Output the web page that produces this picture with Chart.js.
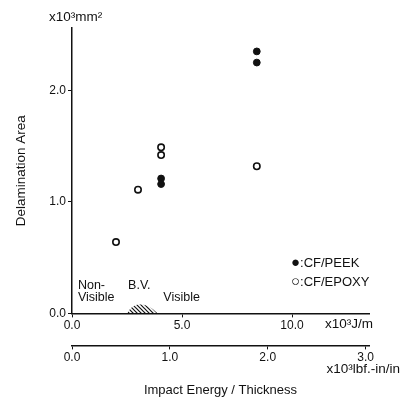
<!DOCTYPE html>
<html>
<head>
<meta charset="utf-8">
<script src="https://cdn.jsdelivr.net/npm/chart.js@4.4.1/dist/chart.umd.min.js"></script>
<style>
    html, body { margin: 0; padding: 0; background: #fff; }
    #wrap { width: 415px; height: 402px; }
</style>
</head>
<body>
<div id="wrap"><canvas id="chart"></canvas></div>
<script>
// impact energy / thickness (x10^3 J/m) vs delamination area (x10^3 mm^2)
const peekEnergy = [4.05, 4.05, 8.4, 8.4];
const peekArea = [1.21, 1.16, 2.35, 2.25];
const epoxyEnergy = [2.0, 3.0, 4.05, 4.05, 8.4];
const epoxyArea = [0.64, 1.11, 1.49, 1.42, 1.32];

// barely visible band (hatched)
const bvEnergy = [2.5, 2.75, 3.1, 3.5, 3.9];
const bvHeight = [0, 0.06, 0.08, 0.06, 0];

const jmTicks = [0, 5, 10];
const lbfTicks = [0, 1, 2, 3];
const areaTicks = [0, 1, 2];

const legendMarks = ['\u25CF', '\u25CB'];
const legendLabels = [':CF/PEEK', ':CF/EPOXY'];

const LBF_TO_JM = 4.448; // 1 lbf.in/in = 4.448 J/m
const X_MAX = 13.5;
const Y_MAX = 2.56;

const FONT = "'Liberation Sans', Arial, sans-serif";
const INK = '#111';

// text placed in data units
const notes = [
    { text: 'Non-', x: 0.27, y: 0.25 },
    { text: 'Visible', x: 0.27, y: 0.14 },
    { text: 'B.V.', x: 2.55, y: 0.25 },
    { text: 'Visible', x: 4.15, y: 0.14 }
];

const toPoints = (xs, ys) => xs.map((x, i) => ({ x: x, y: ys[i] }));

// diagonal hatch for the B.V. band
function hatchPattern() {
    const c = document.createElement('canvas');
    c.width = 4; c.height = 4;
    const g = c.getContext('2d');
    g.strokeStyle = '#111';
    g.lineWidth = 1.2;
    g.beginPath();
    g.moveTo(0, 0); g.lineTo(4, 4);
    g.moveTo(-1, 3); g.lineTo(1, 5);
    g.moveTo(3, -1); g.lineTo(5, 1);
    g.stroke();
    return g.createPattern(c, 'repeat');
}

const extraText = {
    id: 'extraText',
    afterDraw: (chart) => {
        const ctx = chart.ctx;
        const xs = chart.scales.x, x2 = chart.scales.x2, ys = chart.scales.y;
        ctx.save();
        ctx.fillStyle = INK;
        ctx.textBaseline = 'middle';

        ctx.font = '13.5px ' + FONT;
        ctx.textAlign = 'left';
        ctx.fillText('x10\u00B3mm\u00B2', chart.chartArea.left - 23, chart.chartArea.top - 11);

        ctx.textAlign = 'right';
        ctx.fillText('x10\u00B3J/m', xs.right + 4, xs.top + 11);
        ctx.fillText('x10\u00B3lbf.-in/in', x2.right + 31, x2.top + 24);

        ctx.textAlign = 'left';
        ctx.font = '12.5px ' + FONT;
        notes.forEach(n => {
            ctx.fillText(n.text, xs.getPixelForValue(n.x), ys.getPixelForValue(n.y));
        });

        // legend block, lower right of the plot
        const lx = xs.getPixelForValue(10.0);
        legendLabels.forEach((lab, i) => {
            const ly = ys.getPixelForValue(0.45) + i * 19;
            ctx.font = '15px ' + FONT;
            ctx.fillText(legendMarks[i], lx - 1, ly);
            const w = ctx.measureText(legendMarks[i]).width;
            ctx.font = '13px ' + FONT;
            ctx.fillText(lab, lx - 1 + w, ly);
        });
        ctx.restore();
    }
};

const tickFmt = (v) => Number(v).toFixed(1);

const axisBase = {
    type: 'linear',
    grid: { drawOnChartArea: false, drawTicks: true, tickLength: 4, color: INK },
    border: { display: true, color: INK, width: 1.5 },
    ticks: { color: INK, font: { family: FONT, size: 12 }, callback: tickFmt, maxRotation: 0 }
};

new Chart(document.getElementById('chart'), {
    type: 'scatter',
    data: {
        datasets: [
            {
                label: 'CF/PEEK',
                data: toPoints(peekEnergy, peekArea),
                pointStyle: 'circle',
                pointRadius: 3.4,
                backgroundColor: INK,
                borderColor: INK,
                borderWidth: 1
            },
            {
                label: 'CF/EPOXY',
                data: toPoints(epoxyEnergy, epoxyArea),
                pointStyle: 'circle',
                pointRadius: 3.2,
                backgroundColor: '#fff',
                borderColor: INK,
                borderWidth: 1.6
            },
            {
                label: 'B.V.',
                type: 'line',
                data: toPoints(bvEnergy, bvHeight),
                showLine: true,
                tension: 0.4,
                pointRadius: 0,
                borderWidth: 0,
                borderColor: 'rgba(0,0,0,0)',
                fill: 'origin',
                backgroundColor: hatchPattern()
            }
        ]
    },
    options: {
        responsive: true,
        maintainAspectRatio: false,
        animation: false,
        layout: { padding: { top: 28, right: 46, left: 0, bottom: 0 } },
        plugins: {
            legend: { display: false },
            tooltip: { enabled: false },
            title: {
                display: true,
                position: 'bottom',
                fullSize: false,
                text: 'Impact Energy / Thickness',
                color: INK,
                font: { family: FONT, size: 13, weight: 'normal' },
                padding: { top: 5, bottom: 4 }
            }
        },
        scales: {
            x: Object.assign({}, axisBase, {
                position: 'bottom',
                weight: 1,
                min: 0,
                max: X_MAX,
                ticks: Object.assign({}, axisBase.ticks, { padding: 1 }),
                afterBuildTicks: (s) => { s.ticks = jmTicks.map(v => ({ value: v })); },
                afterFit: (s) => { s.height = 32; }
            }),
            x2: Object.assign({}, axisBase, {
                position: 'bottom',
                weight: 2,
                min: 0,
                max: X_MAX / LBF_TO_JM,
                ticks: Object.assign({}, axisBase.ticks, { padding: 1 }),
                afterBuildTicks: (s) => { s.ticks = lbfTicks.map(v => ({ value: v })); },
                afterFit: (s) => { s.height = 32; }
            }),
            y: Object.assign({}, axisBase, {
                min: 0,
                max: Y_MAX,
                ticks: Object.assign({}, axisBase.ticks, { padding: 2 }),
                title: {
                    display: true,
                    text: 'Delamination Area',
                    color: INK,
                    font: { family: FONT, size: 13.5 },
                    padding: { top: 13, bottom: 4 }
                },
                afterBuildTicks: (s) => { s.ticks = areaTicks.map(v => ({ value: v })); },
                afterFit: (s) => { s.width = 72; }
            })
        }
    },
    plugins: [extraText]
});
</script>
</body>
</html>
